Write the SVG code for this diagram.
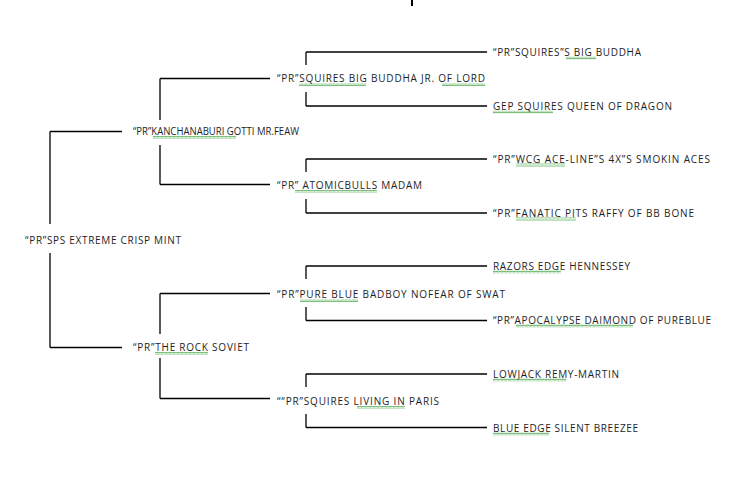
<svg xmlns="http://www.w3.org/2000/svg" width="756" height="484" viewBox="0 0 756 484">
<style>
text{font-family:"Open Sans","Liberation Sans",sans-serif;font-size:10px;fill:#1e1e1e}
.c line{stroke:#000;stroke-width:1.3;fill:none}
.sq{fill:url(#wavy)}
</style>
<defs>
<pattern id="wavy" width="4" height="3" patternUnits="userSpaceOnUse">
<polyline points="0,2.5 1,0.5 2,2.5 3,0.5 4,2.5" fill="none" stroke="#5cae5c" stroke-width="0.8"/>
</pattern>
</defs>
<rect width="756" height="484" fill="#fff"/>
<line x1="412" y1="0" x2="412" y2="6" stroke="#000" stroke-width="2"/>
<g class="c" id="connectors">
<line x1="50" y1="131.5" x2="50" y2="224"/>
<line x1="50" y1="253" x2="50" y2="347.5"/>
<line x1="50" y1="131.5" x2="122" y2="131.5"/>
<line x1="50" y1="347.5" x2="122" y2="347.5"/>
<line x1="160" y1="78.5" x2="160" y2="120"/>
<line x1="160" y1="145" x2="160" y2="184.5"/>
<line x1="160" y1="78.5" x2="270" y2="78.5"/>
<line x1="160" y1="184.5" x2="270" y2="184.5"/>
<line x1="160" y1="293.5" x2="160" y2="334"/>
<line x1="160" y1="358" x2="160" y2="398.5"/>
<line x1="160" y1="293.5" x2="270" y2="293.5"/>
<line x1="160" y1="398.5" x2="270" y2="398.5"/>
<line x1="306" y1="52" x2="306" y2="65"/>
<line x1="306" y1="92" x2="306" y2="106"/>
<line x1="306" y1="52" x2="487" y2="52"/>
<line x1="306" y1="106" x2="487" y2="106"/>
<line x1="306" y1="159" x2="306" y2="172"/>
<line x1="306" y1="199" x2="306" y2="213"/>
<line x1="306" y1="159" x2="487" y2="159"/>
<line x1="306" y1="213" x2="487" y2="213"/>
<line x1="306" y1="266" x2="306" y2="279"/>
<line x1="306" y1="307" x2="306" y2="320.5"/>
<line x1="306" y1="266" x2="487" y2="266"/>
<line x1="306" y1="320.5" x2="487" y2="320.5"/>
<line x1="306" y1="374" x2="306" y2="387"/>
<line x1="306" y1="414" x2="306" y2="427.5"/>
<line x1="306" y1="374" x2="487" y2="374"/>
<line x1="306" y1="427.5" x2="487" y2="427.5"/>
</g>
<g id="root"><text x="25" y="244" textLength="156" lengthAdjust="spacing">“PR”SPS EXTREME CRISP MINT</text></g>
<g id="sire"><text x="133" y="135" textLength="166" lengthAdjust="spacingAndGlyphs">“PR”KANCHANABURI  GOTTI  MR.FEAW</text><rect class="sq" x="153" y="136" width="83" height="3"/></g>
<g id="dam"><text x="133" y="351" textLength="116" lengthAdjust="spacing">“PR”THE ROCK SOVIET</text><rect class="sq" x="155" y="352" width="53" height="3"/></g>
<g id="ss"><text x="277" y="82" textLength="208" lengthAdjust="spacing">“PR”SQUIRES BIG BUDDHA JR. OF LORD</text><rect class="sq" x="299" y="83" width="67" height="3"/><rect class="sq" x="442" y="83" width="43" height="3"/></g>
<g id="sd"><text x="277" y="189" textLength="145" lengthAdjust="spacing">“PR” ATOMICBULLS MADAM</text><rect class="sq" x="295" y="190" width="82" height="3"/></g>
<g id="ds"><text x="277" y="298" textLength="228" lengthAdjust="spacing">“PR”PURE BLUE BADBOY NOFEAR OF SWAT</text><rect class="sq" x="300" y="299" width="58" height="3"/></g>
<g id="dd"><text x="277" y="405" textLength="162" lengthAdjust="spacing">““PR”SQUIRES LIVING IN PARIS</text><rect class="sq" x="357" y="406" width="48" height="3"/></g>
<g id="sss"><text x="493" y="55.5" textLength="148" lengthAdjust="spacing">“PR”SQUIRES”S BIG BUDDHA</text><rect class="sq" x="566" y="56.5" width="30" height="3"/></g>
<g id="ssd"><text x="493" y="109.5" textLength="179" lengthAdjust="spacing">GEP SQUIRES QUEEN OF DRAGON</text><rect class="sq" x="493" y="110.5" width="60" height="3"/></g>
<g id="sds"><text x="493" y="162.5" textLength="217" lengthAdjust="spacing">“PR”WCG ACE-LINE”S 4X”S SMOKIN ACES</text><rect class="sq" x="516" y="163.5" width="49" height="3"/></g>
<g id="sdd"><text x="493" y="216.5" textLength="201" lengthAdjust="spacing">“PR”FANATIC PITS RAFFY OF BB BONE</text><rect class="sq" x="516" y="217.5" width="60" height="3"/></g>
<g id="dss"><text x="493" y="269.5" textLength="137" lengthAdjust="spacing">RAZORS EDGE HENNESSEY</text><rect class="sq" x="493" y="270.5" width="68" height="3"/></g>
<g id="dsd"><text x="493" y="323.5" textLength="218" lengthAdjust="spacing">“PR”APOCALYPSE DAIMOND OF PUREBLUE</text><rect class="sq" x="516" y="324.5" width="117" height="3"/></g>
<g id="dds"><text x="493" y="377.5" textLength="126" lengthAdjust="spacing">LOWJACK REMY-MARTIN</text><rect class="sq" x="493" y="378.5" width="73" height="3"/></g>
<g id="ddd"><text x="493" y="431.5" textLength="145" lengthAdjust="spacing">BLUE EDGE SILENT BREEZEE</text><rect class="sq" x="493" y="432.5" width="56" height="3"/></g>
</svg>
